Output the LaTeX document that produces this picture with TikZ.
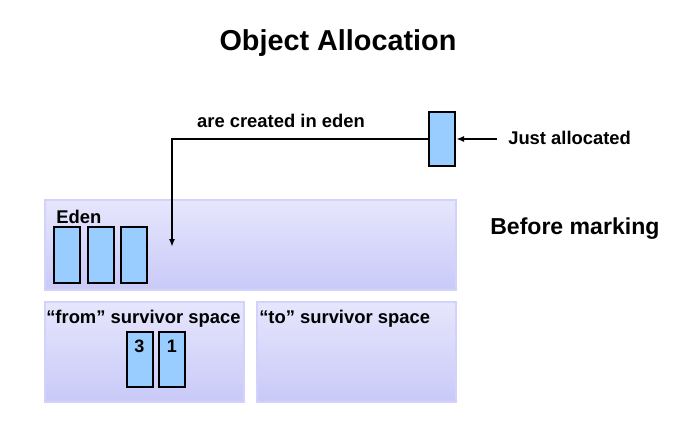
\documentclass[tikz,border=0pt]{standalone}
\usepackage{fontspec}
\setmainfont{Liberation Sans}
\usetikzlibrary{arrows.meta}
\definecolor{spacetop}{HTML}{E6E6FD}
\definecolor{spacebot}{HTML}{C9C9F8}
\definecolor{spaceedge}{HTML}{D2D2FA}
\definecolor{objfill}{HTML}{99CCFF}
\tikzset{
  space/.style={draw=spaceedge, line width=1.5pt, top color=spacetop, bottom color=spacebot},
  obj/.style={draw=black, line width=1.5pt, fill=objfill, minimum width=19.5pt, minimum height=41pt, inner sep=0pt},
  num/.style={font=\fontsize{13.5pt}{15pt}\bfseries, inner sep=0pt},
  lbl/.style={font=\fontsize{13.8pt}{16pt}\bfseries, inner sep=0pt},
  conn/.style={line width=1.2pt, -{Latex[length=6pt,width=4.5pt]}},
}
\begin{document}
\begin{tikzpicture}[x=0.75pt,y=-0.75pt]
\useasboundingbox (0,0) rectangle (686,435);
\node[font=\fontsize{21.6pt}{25pt}\bfseries, inner sep=0pt] (title) at (338,43) {Object Allocation};
% spaces
\path[space] (45,200) rectangle (456,290);
\path[space] (45,302) rectangle (244,402);
\path[space] (257,302) rectangle (456,402);
\coordinate (edenarrow) at (172,247);
\node[lbl, anchor=west] (eden) at (56,217) {Eden};
\node[lbl, anchor=west] (from) at (46,319) {“from” survivor space};
\node[lbl, anchor=west] (to) at (259,319) {“to” survivor space};
% eden objects
\node[obj, minimum height=42pt] (e1) at (67,255) {};
\node[obj, minimum height=42pt] (e2) at (100.5,255) {};
\node[obj, minimum height=42pt] (e3) at (134,255) {};
% from objects
\node[obj] (o3) at (139.5,359.5) {};
\node[obj] (o1) at (172,359.5) {};
\node[num] (t3) at (139.5,346) {3};
\node[num] (t1) at (172,346) {1};
% just allocated
\node[obj] (new) at (442,139) {};
\node[lbl, anchor=west] (just) at (508,138) {Just allocated};
\coordinate (juststart) at (497,139);
\draw[conn] (juststart) -- (new.east);
\draw[conn] (new.west) -| (edenarrow);
\node[lbl] (created) at (281,121) {are created in eden};
\node[font=\fontsize{17.3pt}{20pt}\bfseries, anchor=west, inner sep=0pt] (before) at (490,229) {Before marking};
\end{tikzpicture}
\end{document}
